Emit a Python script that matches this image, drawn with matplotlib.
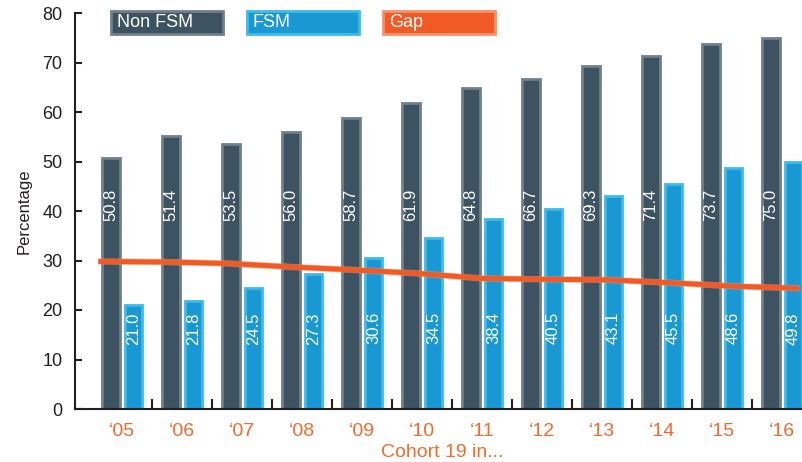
import matplotlib
matplotlib.use("Agg")
import matplotlib.pyplot as plt
import matplotlib.patheffects as pe
from matplotlib.patches import Rectangle
import numpy as np

plt.rcParams["font.family"] = ["Liberation Sans", "DejaVu Sans"]

cohorts = ["\u201805", "\u201806", "\u201807", "\u201808", "\u201809", "\u201810",
           "\u201811", "\u201812", "\u201813", "\u201814", "\u201815", "\u201816"]
# bar heights as drawn (the '06 Non FSM bar is taller than its label)
non_fsm = [50.8, 55.1, 53.5, 56.0, 58.7, 61.9, 64.8, 66.7, 69.3, 71.4, 73.7, 75.0]
fsm = [21.0, 21.8, 24.5, 27.3, 30.6, 34.5, 38.4, 40.5, 43.1, 45.5, 48.6, 49.8]
non_fsm_labels = ["50.8", "51.4", "53.5", "56.0", "58.7", "61.9", "64.8", "66.7",
                  "69.3", "71.4", "73.7", "75.0"]
fsm_labels = ["21.0", "21.8", "24.5", "27.3", "30.6", "34.5", "38.4", "40.5",
              "43.1", "45.5", "48.6", "49.8"]
gap = [29.8, 29.7, 29.4, 28.7, 28.1, 27.4, 26.4, 26.2, 26.1, 25.5, 24.8, 24.4]

NON_FILL, NON_EDGE = "#3d5361", "#6f808c"
FSM_FILL, FSM_EDGE = "#1a98d4", "#3dbbe8"
GAP_FILL, GAP_EDGE = "#f15a24", "#f7916a"
ORANGE_TXT = "#f26a2e"
INK = "#231f20"

W, H = 803, 462
fig = plt.figure(figsize=(W / 100, H / 100), dpi=100)
ax = fig.add_axes([75 / W, 53 / H, 728 / W, 396 / H])

x = np.arange(len(cohorts))
bw = 0.29
ax.bar(x - 0.185, non_fsm, width=bw, color=NON_FILL, edgecolor=NON_EDGE, linewidth=2, zorder=2)
ax.bar(x + 0.19, fsm, width=bw, color=FSM_FILL, edgecolor=FSM_EDGE, linewidth=2, zorder=2)

for i in x:
    ax.text(i - 0.185, 41.2, non_fsm_labels[i], rotation=90, ha="center", va="center",
            color="white", fontsize=12, zorder=3)
    ax.text(i + 0.19, 16.3, fsm_labels[i], rotation=90, ha="center", va="center",
            color="white", fontsize=12, zorder=3)

gap_x = np.linspace(-0.35, 11.25, len(gap))
ax.plot(gap_x, gap, color=GAP_FILL, linewidth=3.6, zorder=4,
        path_effects=[pe.Stroke(linewidth=4.6, foreground=GAP_EDGE, alpha=0.6), pe.Normal()])

ax.set_xlim(-0.783, 11.35)
ax.set_ylim(0, 80)
ax.set_yticks(range(0, 81, 10))
ax.set_xticks(x)
ax.set_xticklabels(cohorts, color=ORANGE_TXT, fontsize=14)
ax.set_xticks(x[:-1] + 0.5, minor=True)
ax.tick_params(axis="x", which="major", length=0, pad=10)
ax.tick_params(axis="x", which="minor", direction="in", length=7.5, width=1.5, color=INK)
ax.tick_params(axis="y", direction="in", length=5, width=1.5, color=INK,
               labelsize=13, labelcolor=INK, pad=9)

for side in ["top", "right"]:
    ax.spines[side].set_visible(False)
for side in ["left", "bottom"]:
    ax.spines[side].set_linewidth(1.5)
    ax.spines[side].set_color(INK)

ax.set_ylabel("Percentage", fontsize=12, color=INK)
ax.yaxis.set_label_coords(-0.059, 0.5)
ax.set_xlabel("Cohort 19 in...", fontsize=14, color=ORANGE_TXT)
ax.xaxis.set_label_coords(0.505, -0.088)

# legend boxes across the top
legend_items = [("Non FSM", NON_FILL, NON_EDGE), ("FSM", FSM_FILL, FSM_EDGE), ("Gap", GAP_FILL, GAP_EDGE)]
for k, (name, fill, edge) in enumerate(legend_items):
    left = 111 + 136 * k
    fig.patches.append(Rectangle((left / W, (H - 34) / H), 112 / W, 23 / H,
                                 facecolor=fill, edgecolor=edge, linewidth=2,
                                 transform=fig.transFigure, figure=fig))
    fig.text((left + 6) / W, (H - 22.5) / H, name, color="white", fontsize=13,
             ha="left", va="center")

fig.savefig("out.png", dpi=100)
